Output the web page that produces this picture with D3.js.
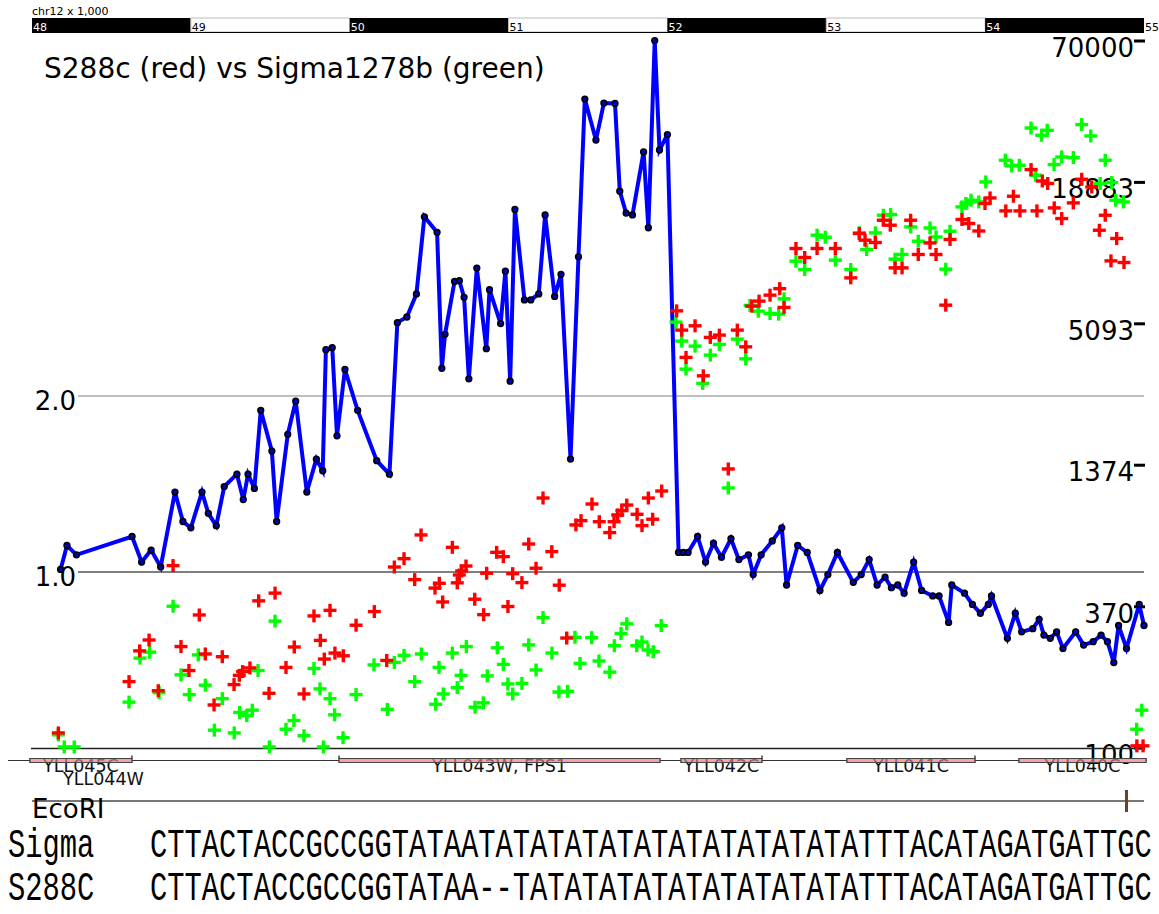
<!DOCTYPE html>
<html>
<head>
<meta charset="utf-8">
<script src="https://cdn.jsdelivr.net/npm/d3@7"></script>
<style>
  body { margin: 0; background: #fff; }
  svg { display: block; font-family: "DejaVu Sans", sans-serif; }
</style>
</head>
<body>
<script>
// ruler ticks (kb on chr12)
const rulerTicks = [48, 49, 50, 51, 52, 53, 54, 55];

// blue line: S288c / Sigma ratio
const blueKb = [48.18,48.22,48.28,48.63,48.69,48.75,48.81,48.90,48.95,49.00,
  49.07,49.11,49.16,49.21,49.29,49.33,49.36,49.40,49.44,49.51,
  49.54,49.61,49.66,49.73,49.79,49.83,49.85,49.89,49.92,49.97,
  50.05,50.17,50.25,50.30,50.36,50.42,50.47,50.55,50.58,50.60,
  50.66,50.69,50.72,50.75,50.80,50.86,50.88,50.95,50.98,51.01,
  51.04,51.10,51.14,51.19,51.23,51.29,51.33,51.39,51.44,51.48,
  51.55,51.60,51.67,51.70,51.74,51.78,51.85,51.88,51.92,51.95,
  52.00,52.07,52.10,52.13,52.19,52.24,52.29,52.34,52.40,52.45,
  52.51,52.54,52.59,52.66,52.72,52.75,52.82,52.88,52.96,53.01,
  53.07,53.17,53.22,53.27,53.32,53.37,53.41,53.45,53.49,53.55,
  53.60,53.67,53.71,53.77,53.79,53.87,53.92,53.97,54.02,54.04,
  54.14,54.19,54.23,54.30,54.34,54.37,54.41,54.45,54.49,54.57,
  54.62,54.68,54.73,54.77,54.81,54.84,54.89,54.97,55.00];
const blueRatio = [1.01,1.11,1.07,1.15,1.04,1.09,1.02,1.37,1.22,1.19,
  1.37,1.26,1.20,1.40,1.47,1.33,1.47,1.39,1.89,1.61,
  1.22,1.72,1.96,1.37,1.56,1.49,2.40,2.42,1.71,2.22,
  1.89,1.55,1.47,2.67,2.73,2.99,4.05,3.81,2.23,2.55,
  3.14,3.15,2.95,2.14,3.31,2.41,3.04,2.66,3.27,2.12,
  4.17,2.92,2.92,2.99,4.08,2.96,3.23,1.56,3.46,6.44,
  5.48,6.34,6.33,4.48,4.11,4.08,5.23,3.88,8.11,5.27,
  5.60,1.08,1.08,1.08,1.15,1.04,1.12,1.06,1.14,1.05,
  1.07,0.99,1.07,1.13,1.19,0.95,1.11,1.08,0.93,0.99,
  1.08,0.96,0.99,1.05,0.95,0.98,0.94,0.95,0.92,1.04,
  0.93,0.91,0.91,0.82,0.95,0.92,0.88,0.85,0.88,0.91,
  0.77,0.85,0.79,0.80,0.83,0.78,0.77,0.79,0.74,0.79,
  0.75,0.76,0.78,0.76,0.70,0.81,0.74,0.88,0.81];

// red crosses: S288c counts
const redKb = [48.166,48.611,48.678,48.737,48.795,48.888,48.938,48.988,49.053,49.091,
  49.146,49.198,49.272,49.305,49.326,49.372,49.427,49.492,49.530,49.599,
  49.651,49.712,49.775,49.815,49.840,49.876,49.907,49.960,50.040,50.155,
  50.233,50.281,50.342,50.409,50.449,50.537,50.564,50.585,50.646,50.677,
  50.690,50.705,50.732,50.787,50.843,50.862,50.925,50.967,50.996,51.026,
  51.084,51.127,51.173,51.217,51.272,51.319,51.366,51.424,51.456,51.525,
  51.571,51.637,51.664,51.687,51.713,51.744,51.809,51.840,51.880,51.907,
  51.964,52.058,52.090,52.117,52.174,52.226,52.270,52.327,52.383,52.440,
  52.493,52.531,52.577,52.646,52.707,52.734,52.809,52.864,52.942,53.057,
  53.154,53.208,53.244,53.309,53.359,53.403,53.433,53.477,53.531,53.579,
  53.653,53.691,53.752,53.779,53.854,53.897,53.960,53.999,54.031,54.130,
  54.178,54.219,54.289,54.326,54.360,54.394,54.435,54.482,54.555,54.608,
  54.671,54.719,54.756,54.792,54.828,54.874,54.955,54.994];
const redCount = [115,185,246,272,170,542,256,205,343,239,
  149,233,180,196,203,210,391,166,420,211,
  255,165,340,271,228,358,241,235,312,354,
  225,535,578,476,720,440,460,387,642,462,
  497,516,540,397,344,505,613,589,371,503,
  463,662,529,1014,617,452,277,790,822,959,
  814,736,814,867,902,950,872,785,1014,833,
  1082,5743,4804,3731,5000,3146,4490,4587,1327,4804,
  4115,6000,6285,6643,7055,5929,10235,9417,10235,10235,
  7797,11760,11054,10820,13300,12700,8554,8554,13300,9683,
  10780,9683,6055,11130,13390,12900,12040,15530,16350,14500,
  16610,14500,21270,14500,19130,18690,14910,13510,15620,19440,
  18100,12120,13930,9125,11230,8990,102,102];

// green crosses: Sigma1278b counts
const greenKb = [48.166,48.203,48.266,48.611,48.680,48.741,48.800,48.888,48.938,48.990,
  49.047,49.091,49.148,49.198,49.273,49.307,49.352,49.387,49.423,49.494,
  49.530,49.599,49.649,49.712,49.775,49.813,49.834,49.876,49.905,49.958,
  50.040,50.153,50.237,50.281,50.342,50.409,50.451,50.541,50.562,50.589,
  50.646,50.677,50.701,50.734,50.789,50.841,50.866,50.929,50.967,50.996,
  51.026,51.084,51.127,51.173,51.217,51.273,51.317,51.372,51.418,51.450,
  51.523,51.569,51.637,51.666,51.708,51.744,51.807,51.840,51.878,51.911,
  51.961,52.054,52.090,52.117,52.174,52.222,52.270,52.327,52.383,52.440,
  52.493,52.520,52.572,52.646,52.700,52.734,52.809,52.864,52.942,52.994,
  53.057,53.154,53.208,53.254,53.309,53.359,53.405,53.433,53.477,53.531,
  53.579,53.653,53.691,53.752,53.779,53.854,53.879,53.911,53.960,54.004,
  54.127,54.167,54.215,54.289,54.318,54.356,54.391,54.434,54.482,54.555,
  54.608,54.665,54.724,54.756,54.797,54.822,54.870,54.954,54.986];
const greenCount = [113,101,101,153,230,243,167,372,197,164,
  237,179,118,158,115,139,135,142,205,101,
  324,119,129,112,209,173,101,158,136,110,
  164,216,143,221,236,185,239,150,211,165,
  241,175,196,256,146,152,195,253,217,181,
  165,182,260,206,335,241,168,169,279,219,
  278,224,202,258,289,316,258,267,248,244,
  311,5174,4340,3347,4142,2933,3811,4208,1113,4420,
  3683,6040,5728,5606,5570,6420,9100,8427,11580,11360,
  9186,8427,11830,10140,11830,13930,14020,9271,9683,12500,
  10950,12380,11390,8451,12010,15050,15530,16010,15760,18960,
  23190,21990,22130,31260,20170,29230,30600,22280,23900,23770,
  32270,29030,18690,23190,18860,16010,15760,119,142];

// axes
const leftTicks = [1.0, 2.0];
const rightTicks = [100, 370, 1374, 5093, 18883, 70000];

// genes
const geneNames = ["YLL045C", "YLL044W", "YLL043W, FPS1", "YLL042C", "YLL041C", "YLL040C"];
const geneStart = [47.987, 48.30, 49.933, 52.085, 53.130, 54.213];
const geneEnd   = [48.629, 48.60, 51.953, 52.595, 53.936, 55.013];
const geneRow   = [0, 1, 0, 0, 0, 0];
const geneHook  = ["end", null, "start", "end", "end", null];

// restriction sites
const ecoriSites = [54.89];

// alignment
const seqNames = ["Sigma", "S288C"];
const seqs = [
  "CTTACTACCGCCGGTATAATATATATATATATATATATATATTTACATAGATGATTGC",
  "CTTACTACCGCCGGTATAA--TATATATATATATATATATATTTACATAGATGATTGC"
];

const W = 1159, H = 914;
const svg = d3.select("body").append("svg").attr("width", W).attr("height", H);

const x = d3.scaleLinear().domain([48, 55]).range([32, 1144]);
const yRatio = d3.scaleLog().base(2).domain([0.5, 8]).range([748, 44]);
const yCount = d3.scaleLog().domain([100, 70000]).range([748, 41]);

// ---- ruler
svg.append("text").attr("x", 32).attr("y", 15).attr("font-size", 11).text("chr12 x 1,000");
const segs = d3.pairs(rulerTicks);
svg.append("g").selectAll("rect").data(segs).enter().append("rect")
  .attr("x", d => x(d[0])).attr("y", 18)
  .attr("width", d => x(d[1]) - x(d[0])).attr("height", 14)
  .attr("fill", (d, i) => i % 2 === 0 ? "#000" : "#fff")
  .attr("stroke", (d, i) => i % 2 === 0 ? "none" : "#bbb").attr("stroke-width", 1);
svg.append("line").attr("x1", x(48)).attr("x2", x(55)).attr("y1", 32.5).attr("y2", 32.5)
  .attr("stroke", "#000");
svg.append("g").selectAll("text").data(rulerTicks).enter().append("text")
  .attr("x", d => x(d) + 1).attr("y", 31).attr("font-size", 11)
  .attr("fill", (d, i) => (i % 2 === 0 && i < rulerTicks.length - 1) ? "#fff" : "#000")
  .text(d => d);

// ---- title
svg.append("text").attr("x", 44).attr("y", 78).attr("font-size", 28)
  .text("S288c (red) vs Sigma1278b (green)");

// ---- grid lines
svg.append("line").attr("x1", 78).attr("x2", 1144)
  .attr("y1", yRatio(2)).attr("y2", yRatio(2)).attr("stroke", "#aaa").attr("stroke-width", 1.5);
svg.append("line").attr("x1", 78).attr("x2", 1144)
  .attr("y1", yRatio(1)).attr("y2", yRatio(1)).attr("stroke", "#000").attr("stroke-width", 1.2);

// left labels
svg.append("g").selectAll("text").data(leftTicks).enter().append("text")
  .attr("x", 76).attr("y", d => yRatio(d) + 14).attr("text-anchor", "end")
  .attr("font-size", 26).text(d => d3.format(".1f")(d));

// right labels + ticks
const rt = svg.append("g");
rt.selectAll("text").data(rightTicks).enter().append("text")
  .attr("x", 1134).attr("y", d => yCount(d) + 16).attr("text-anchor", "end")
  .attr("font-size", 26).text(d => d);
rt.selectAll("rect").data(rightTicks).enter().append("rect")
  .attr("x", 1134).attr("y", d => yCount(d) - 1.5).attr("width", 11).attr("height", 3)
  .attr("fill", "#000");

// baseline
svg.append("line").attr("x1", 31).attr("x2", 1144).attr("y1", 748.5).attr("y2", 748.5)
  .attr("stroke", "#222").attr("stroke-width", 1.5);

// ---- gene track
svg.append("line").attr("x1", 8).attr("x2", 1144).attr("y1", 760.5).attr("y2", 760.5)
  .attr("stroke", "#333").attr("stroke-width", 1);
const genes = geneNames.map((n, i) => ({ name: n, s: geneStart[i], e: geneEnd[i], row: geneRow[i], hook: geneHook[i] }));
const gt = svg.append("g");
gt.selectAll("rect").data(genes.filter(g => g.row === 0)).enter().append("rect")
  .attr("x", d => x(d.s)).attr("y", 758.5)
  .attr("width", d => x(d.e) - x(d.s)).attr("height", 4)
  .attr("fill", "#f4a4a4").attr("stroke", "#444").attr("stroke-width", 1);
gt.selectAll("line.hook").data(genes.filter(g => g.hook)).enter().append("line")
  .attr("class", "hook")
  .attr("x1", d => x(d.hook === "end" ? d.e : d.s)).attr("x2", d => x(d.hook === "end" ? d.e : d.s))
  .attr("y1", 755.5).attr("y2", 759).attr("stroke", "#444").attr("stroke-width", 1.5);
gt.selectAll("text").data(genes).enter().append("text")
  .attr("x", d => x((d.s + d.e) / 2)).attr("y", d => d.row === 0 ? 772 : 785)
  .attr("text-anchor", "middle").attr("font-size", 17.5).attr("fill", "#111")
  .text(d => d.name);
// rect drawn again over the labels, as in the reference
gt.selectAll("rect.over").data(genes.filter(g => g.row === 0)).enter().append("rect")
  .attr("class", "over")
  .attr("x", d => x(d.s)).attr("y", 758.5)
  .attr("width", d => x(d.e) - x(d.s)).attr("height", 4)
  .attr("fill", "#f4a4a4").attr("fill-opacity", 0.55).attr("stroke", "#444").attr("stroke-width", 1);

// ---- EcoRI track
svg.append("line").attr("x1", 32).attr("x2", 1144).attr("y1", 801).attr("y2", 801)
  .attr("stroke", "#777").attr("stroke-width", 2);
svg.append("text").attr("x", 32).attr("y", 818).attr("font-size", 26).text("EcoRI");
svg.append("g").selectAll("line").data(ecoriSites).enter().append("line")
  .attr("x1", d => x(d)).attr("x2", d => x(d)).attr("y1", 790).attr("y2", 812)
  .attr("stroke", "#6b4226").attr("stroke-width", 3);

// ---- alignment (narrow tall mono: natural width, stretched vertically)
const charW = 1002 / seqs[0].length;
const monoSize = charW / 0.6;
const stretch = 1.38;
seqNames.forEach((n, i) => {
  const by = 857 + i * 43;
  svg.append("text").attr("transform", `translate(8,${by}) scale(1,${stretch})`)
    .attr("font-family", "'Liberation Mono', monospace").attr("font-size", monoSize).text(n);
  svg.append("text").attr("transform", `translate(150,${by}) scale(1,${stretch})`)
    .attr("font-family", "'Liberation Mono', monospace").attr("font-size", monoSize).text(seqs[i]);
});

// ---- blue ratio line
const blue = blueKb.map((k, i) => [k, blueRatio[i]]);
svg.append("path").datum(blue)
  .attr("d", d3.line().x(d => x(d[0])).y(d => yRatio(d[1])))
  .attr("fill", "none").attr("stroke", "#0000ff").attr("stroke-width", 4)
  .attr("stroke-linejoin", "miter");
svg.append("g").selectAll("circle").data(blue).enter().append("circle")
  .attr("cx", d => x(d[0])).attr("cy", d => yRatio(d[1])).attr("r", 2.8)
  .attr("fill", "#0000cc").attr("stroke", "#000").attr("stroke-width", 1.7);

// ---- crosses
function crosses(kb, counts, color) {
  const g = svg.append("g").attr("stroke", color).attr("stroke-width", 3.4);
  const pts = kb.map((k, i) => [x(k), yCount(counts[i])]);
  g.selectAll("line.h").data(pts).enter().append("line").attr("class", "h")
    .attr("x1", d => d[0] - 6.5).attr("x2", d => d[0] + 6.5)
    .attr("y1", d => d[1]).attr("y2", d => d[1]);
  g.selectAll("line.v").data(pts).enter().append("line").attr("class", "v")
    .attr("x1", d => d[0]).attr("x2", d => d[0])
    .attr("y1", d => d[1] - 6.5).attr("y2", d => d[1] + 6.5);
}
crosses(greenKb, greenCount, "#00ff00");
crosses(redKb, redCount, "#ff0000");
</script>
</body>
</html>
